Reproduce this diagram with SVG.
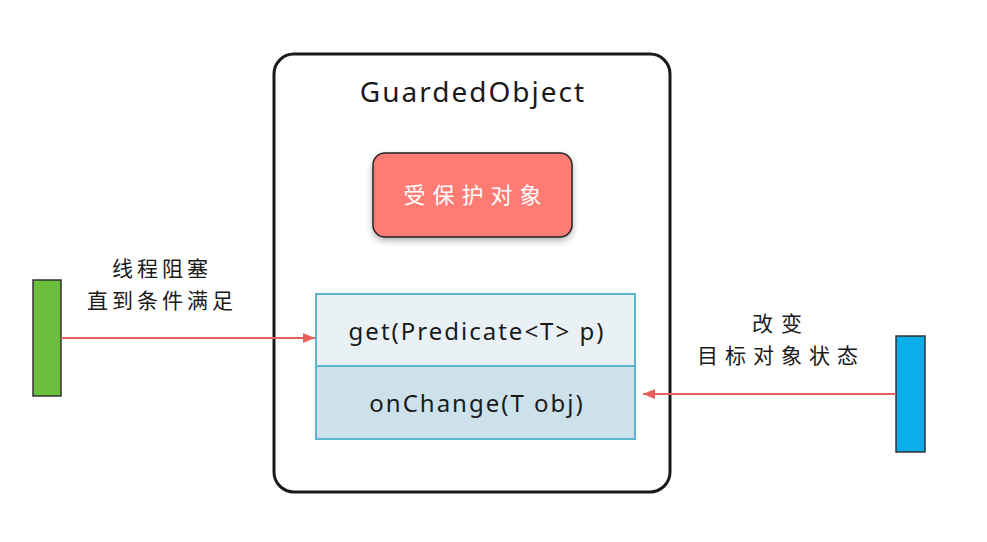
<svg xmlns="http://www.w3.org/2000/svg" width="987" height="542" viewBox="0 0 987 542">
<style>
.t{font-family:"Noto Sans","Noto Sans CJK SC",sans-serif;text-anchor:middle;fill:#1a1a1a;letter-spacing:2px}
.c{font-family:"Noto Sans CJK SC","Noto Sans",sans-serif;text-anchor:middle;fill:#1a1a1a;font-size:21px;letter-spacing:4px}
.conn{stroke:#E8605A;stroke-width:2;fill:none}
</style>
<defs>
<marker id="ah" viewBox="0 0 12 10" refX="12" refY="5" markerWidth="12" markerHeight="10" markerUnits="userSpaceOnUse" orient="auto">
<path d="M0,0 L12,5 L0,10 Z" fill="#E8605A"/>
</marker>
<filter id="sh" x="-20%" y="-20%" width="140%" height="150%">
<feDropShadow dx="0" dy="3" stdDeviation="3" flood-color="#000" flood-opacity="0.3"/>
</filter>
</defs>
<rect width="987" height="542" fill="#fff"/>
<g id="guarded-object">
<rect x="274" y="54" width="396" height="438" rx="20" fill="#fff" stroke="#1a1a1a" stroke-width="3"/>
<text class="t" x="473" y="102" font-size="28">GuardedObject</text>
</g>
<g id="protected-object">
<rect x="373" y="153" width="199" height="84" rx="12" fill="#FF7B74" stroke="#222" stroke-width="1.5" filter="url(#sh)"/>
<text class="c" x="476" y="203" style="fill:#fff;font-size:22px;letter-spacing:7px">受保护对象</text>
</g>
<g id="methods">
<rect x="316" y="294" width="319" height="72" fill="#E9F1F5" stroke="#5BB5CF" stroke-width="2"/>
<rect x="316" y="366" width="319" height="73" fill="#CDE1EA" stroke="#5BB5CF" stroke-width="2"/>
<text class="t" x="477" y="340" font-size="24">get(Predicate&lt;T&gt; p)</text>
<text class="t" x="477" y="412" font-size="24">onChange(T obj)</text>
</g>
<g id="thread-wait">
<rect x="33" y="280" width="28" height="116" fill="#6CBF3C" stroke="#333" stroke-width="1.5"/>
</g>
<g id="thread-change">
<rect x="896" y="336" width="29" height="116" fill="#0BAEE8" stroke="#333" stroke-width="1.5"/>
</g>
<g id="labels">
<text class="c" x="162" y="276">线程阻塞</text>
<text class="c" x="162" y="308">直到条件满足</text>
<text class="c" x="781" y="331" style="letter-spacing:8px">改变</text>
<text class="c" x="781" y="363" style="letter-spacing:7px">目标对象状态</text>
</g>
<g id="connectors">
<line class="conn" x1="61" y1="338" x2="315" y2="338" marker-end="url(#ah)"/>
<line class="conn" x1="896" y1="394" x2="643" y2="394" marker-end="url(#ah)"/>
</g>
</svg>
